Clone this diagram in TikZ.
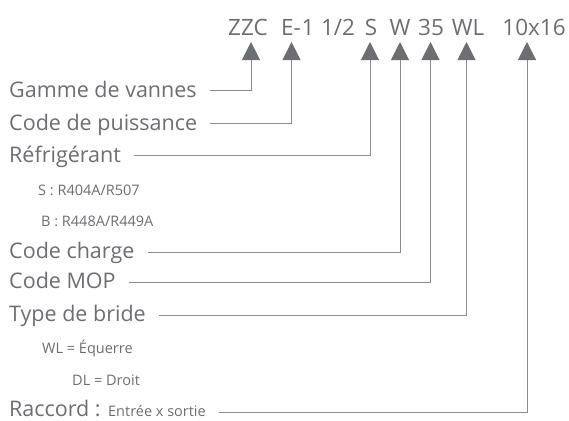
\documentclass[tikz,border=0pt]{standalone}
\usepackage{fontspec}
\setmainfont{Open Sans}
\usetikzlibrary{arrows.meta}
\definecolor{txtgray}{HTML}{6D6E71}
\definecolor{lngray}{HTML}{8C8C8C}
\begin{document}
\begin{tikzpicture}[x=1pt,y=-1pt,
  lab/.style={anchor=base west, inner sep=0pt, font=\fontsize{21.5}{21.5}\selectfont, text=txtgray},
  sublab/.style={anchor=base west, inner sep=0pt, font=\fontsize{14.5}{14.5}\selectfont, text=txtgray},
  codetok/.style={anchor=base, inner sep=0pt, font=\fontsize{22.5}{22.5}\selectfont, text=txtgray},
  conn/.style={draw=lngray, line width=1pt, -{Triangle[length=18pt,width=18pt,color=txtgray,fill=txtgray]}}]
\useasboundingbox (0,0) rectangle (569,420);
% code tokens
\node[codetok] (tZZC) at (248,35) {ZZC};
\node[codetok] (tE) at (291,35) {E-};
\node[codetok] (tone) at (308,35) {1};
\node[codetok] (thalf) at (338,35) {1/2};
\node[codetok] (tS) at (371,35) {S};
\node[codetok] (tW) at (400,35) {W};
\node[codetok] (t35) at (431,35) {35};
\node[codetok] (tWL) at (468,35) {WL};
\node[codetok] (tconn) at (534,35) {10x16};
% arrow targets
\coordinate (aZZC) at (251,42);
\coordinate (aE) at (291.5,42);
\coordinate (aS) at (370,42);
\coordinate (aW) at (400,42);
\coordinate (a35) at (430.5,42);
\coordinate (aWL) at (466.5,42);
\coordinate (aconn) at (527,42);
% labels
\node[lab] (gamme) at (9,97) {Gamme de vannes};
\node[lab] (puiss) at (9,130) {Code de puissance};
\node[lab] (refr) at (9,162) {Réfrigérant};
\node[sublab] (s1) at (38,195) {S : R404A/R507};
\node[sublab] (s2) at (41,226) {B : R448A/R449A};
\node[lab] (charge) at (9,258) {Code charge};
\node[lab] (mop) at (9,288) {Code MOP};
\node[lab] (bride) at (9,321) {Type de bride};
\node[sublab] (s3) at (42,353) {WL = Équerre};
\node[sublab] (s4) at (72,385) {DL = Droit};
\node[lab] (racc) at (9,416) {Raccord : {\fontsize{14.5}{14.5}\selectfont Entrée x sortie}};
% connectors
\draw[conn] ([xshift=13pt,yshift=7pt]gamme.base east) -| (aZZC);
\draw[conn] ([xshift=13pt,yshift=7pt]puiss.base east) -| (aE);
\draw[conn] ([xshift=13pt,yshift=7pt]refr.base east) -| (aS);
\draw[conn] ([xshift=13pt,yshift=6pt]charge.base east) -| (aW);
\draw[conn] ([xshift=13pt,yshift=6pt]mop.base east) -| (a35);
\draw[conn] ([xshift=13pt,yshift=6pt]bride.base east) -| (aWL);
\draw[conn] ([xshift=13pt,yshift=4pt]racc.base east) -| (aconn);
\end{tikzpicture}
\end{document}
